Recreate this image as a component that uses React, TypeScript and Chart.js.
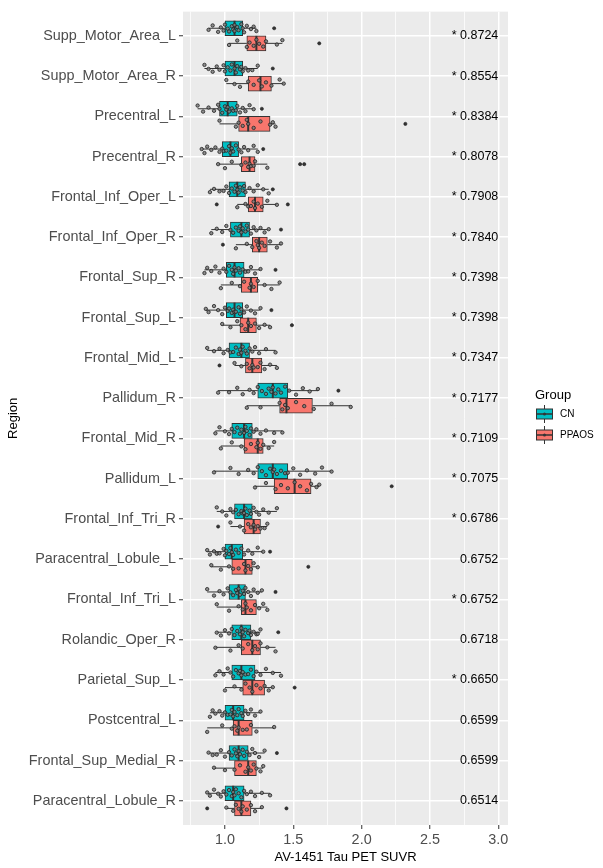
import React, { useEffect, useRef } from "react";
import { Chart, registerables } from "chart.js";
Chart.register(...registerables);

const REGIONS = [
  "Supp_Motor_Area_L", "Supp_Motor_Area_R", "Precentral_L", "Precentral_R",
  "Frontal_Inf_Oper_L", "Frontal_Inf_Oper_R", "Frontal_Sup_R", "Frontal_Sup_L",
  "Frontal_Mid_L", "Pallidum_R", "Frontal_Mid_R", "Pallidum_L",
  "Frontal_Inf_Tri_R", "Paracentral_Lobule_L", "Frontal_Inf_Tri_L", "Rolandic_Oper_R",
  "Parietal_Sup_L", "Postcentral_L", "Frontal_Sup_Medial_R", "Paracentral_Lobule_R",
];

// [lower whisker, q1, median, q3, upper whisker]
const CN_STATS = [
  [0.88, 1.0, 1.07, 1.13, 1.23], [0.85, 1.0, 1.07, 1.13, 1.24], [0.8, 0.96, 1.02, 1.09, 1.21],
  [0.83, 0.98, 1.04, 1.1, 1.24], [0.89, 1.03, 1.09, 1.15, 1.32], [0.9, 1.04, 1.12, 1.18, 1.32],
  [0.85, 1.01, 1.07, 1.14, 1.26], [0.86, 1.01, 1.07, 1.13, 1.26], [0.87, 1.03, 1.12, 1.18, 1.37],
  [0.95, 1.24, 1.35, 1.46, 1.68], [0.93, 1.05, 1.14, 1.2, 1.42], [0.92, 1.24, 1.35, 1.46, 1.78],
  [0.94, 1.07, 1.14, 1.2, 1.38], [0.87, 1.0, 1.05, 1.13, 1.28], [0.87, 1.03, 1.1, 1.15, 1.27],
  [0.94, 1.05, 1.12, 1.19, 1.26], [0.93, 1.05, 1.12, 1.22, 1.41], [0.89, 1.0, 1.06, 1.14, 1.26],
  [0.88, 1.03, 1.1, 1.17, 1.29], [0.87, 1.0, 1.06, 1.14, 1.33],
];
const PP_STATS = [
  [1.03, 1.16, 1.23, 1.3, 1.42], [1.01, 1.17, 1.26, 1.34, 1.43], [0.96, 1.1, 1.17, 1.33, 1.37],
  [0.95, 1.12, 1.18, 1.22, 1.31], [1.09, 1.17, 1.22, 1.28, 1.38], [1.08, 1.2, 1.25, 1.31, 1.41],
  [0.97, 1.12, 1.19, 1.24, 1.4], [0.98, 1.11, 1.17, 1.23, 1.33], [1.07, 1.15, 1.2, 1.27, 1.38],
  [1.16, 1.4, 1.45, 1.64, 1.92], [0.97, 1.14, 1.24, 1.28, 1.36], [1.22, 1.36, 1.51, 1.63, 1.69],
  [1.04, 1.14, 1.21, 1.26, 1.31], [0.9, 1.05, 1.15, 1.2, 1.24], [0.94, 1.12, 1.15, 1.23, 1.31],
  [0.93, 1.12, 1.2, 1.26, 1.37], [1.0, 1.13, 1.2, 1.29, 1.35], [0.87, 1.06, 1.1, 1.2, 1.36],
  [0.92, 1.07, 1.17, 1.23, 1.28], [1.01, 1.07, 1.12, 1.19, 1.27],
];
const CN_OUT = [
  [1.36], [1.35], [1.27], [1.28], [1.35], [1.41], [1.37], [1.34], [], [1.83],
  [], [], [], [1.33], [1.37], [1.39], [], [], [1.38], [],
];
const PP_OUT = [
  [1.69], [], [2.32], [1.55, 1.58], [0.94, 1.46], [0.985], [], [1.49], [0.96], [],
  [], [2.22], [0.95], [1.61], [], [], [1.51], [], [], [0.87, 1.45],
];
const CN_PTS = [
  [0.88, 0.91, 0.95, 0.97, 0.99, 1.0, 1.02, 1.03, 1.05, 1.06, 1.07, 1.07, 1.09, 1.1, 1.12, 1.13, 1.14, 1.16, 1.19, 1.21, 1.23],
  [0.85, 0.88, 0.91, 0.94, 0.96, 0.99, 1.0, 1.02, 1.04, 1.05, 1.07, 1.08, 1.09, 1.11, 1.12, 1.13, 1.15, 1.17, 1.2, 1.24],
  [0.8, 0.84, 0.88, 0.92, 0.95, 0.96, 0.98, 1.0, 1.01, 1.02, 1.03, 1.05, 1.06, 1.08, 1.09, 1.11, 1.13, 1.15, 1.18, 1.21],
  [0.83, 0.85, 0.87, 0.9, 0.93, 0.96, 0.98, 0.99, 1.01, 1.03, 1.04, 1.05, 1.06, 1.08, 1.1, 1.12, 1.14, 1.17, 1.21, 1.24],
  [0.89, 0.92, 0.96, 0.99, 1.01, 1.03, 1.05, 1.07, 1.08, 1.09, 1.1, 1.11, 1.13, 1.14, 1.15, 1.18, 1.21, 1.24, 1.28, 1.32],
  [0.9, 0.94, 0.98, 1.01, 1.04, 1.06, 1.08, 1.1, 1.11, 1.12, 1.13, 1.15, 1.16, 1.17, 1.19, 1.21, 1.23, 1.26, 1.29, 1.32],
  [0.85, 0.87, 0.9, 0.93, 0.96, 0.99, 1.01, 1.03, 1.05, 1.06, 1.07, 1.08, 1.1, 1.11, 1.13, 1.15, 1.17, 1.19, 1.22, 1.26],
  [0.86, 0.88, 0.92, 0.95, 0.98, 1.0, 1.02, 1.03, 1.05, 1.06, 1.07, 1.08, 1.1, 1.11, 1.12, 1.14, 1.16, 1.19, 1.22, 1.26],
  [0.87, 0.92, 0.96, 0.99, 1.02, 1.04, 1.06, 1.08, 1.1, 1.11, 1.12, 1.13, 1.15, 1.16, 1.18, 1.2, 1.22, 1.25, 1.3, 1.37],
  [0.95, 1.03, 1.09, 1.13, 1.18, 1.21, 1.24, 1.27, 1.3, 1.32, 1.34, 1.35, 1.37, 1.39, 1.41, 1.44, 1.47, 1.52, 1.57, 1.62, 1.68],
  [0.93, 0.96, 1.0, 1.03, 1.05, 1.07, 1.09, 1.11, 1.12, 1.14, 1.15, 1.16, 1.18, 1.19, 1.21, 1.23, 1.26, 1.3, 1.36, 1.42],
  [0.92, 1.04, 1.1, 1.17, 1.21, 1.24, 1.27, 1.3, 1.33, 1.35, 1.36, 1.38, 1.41, 1.44, 1.46, 1.5, 1.55, 1.6, 1.66, 1.71, 1.78],
  [0.94, 0.98, 1.01, 1.04, 1.06, 1.08, 1.1, 1.12, 1.13, 1.14, 1.15, 1.16, 1.18, 1.19, 1.21, 1.23, 1.25, 1.28, 1.32, 1.38],
  [0.87, 0.89, 0.92, 0.94, 0.96, 0.99, 1.0, 1.01, 1.03, 1.04, 1.05, 1.06, 1.08, 1.1, 1.12, 1.14, 1.17, 1.2, 1.24, 1.28],
  [0.87, 0.92, 0.96, 0.99, 1.02, 1.04, 1.06, 1.08, 1.09, 1.1, 1.11, 1.13, 1.14, 1.15, 1.17, 1.19, 1.21, 1.24, 1.27],
  [0.94, 0.97, 1.0, 1.03, 1.05, 1.07, 1.09, 1.11, 1.12, 1.13, 1.14, 1.15, 1.17, 1.18, 1.19, 1.21, 1.23, 1.24, 1.26],
  [0.93, 0.96, 0.99, 1.02, 1.04, 1.06, 1.08, 1.1, 1.11, 1.12, 1.13, 1.15, 1.17, 1.19, 1.21, 1.23, 1.26, 1.3, 1.35, 1.41],
  [0.89, 0.91, 0.93, 0.96, 0.98, 1.0, 1.02, 1.04, 1.05, 1.06, 1.07, 1.09, 1.1, 1.12, 1.13, 1.15, 1.17, 1.19, 1.22, 1.26],
  [0.88, 0.91, 0.94, 0.97, 1.0, 1.03, 1.05, 1.07, 1.08, 1.09, 1.1, 1.11, 1.13, 1.14, 1.16, 1.18, 1.2, 1.22, 1.25, 1.29],
  [0.87, 0.89, 0.92, 0.95, 0.97, 0.99, 1.01, 1.03, 1.05, 1.06, 1.07, 1.08, 1.1, 1.12, 1.14, 1.16, 1.19, 1.22, 1.27, 1.33],
];
const PP_PTS = [
  [1.03, 1.09, 1.16, 1.18, 1.21, 1.23, 1.25, 1.28, 1.3, 1.38, 1.42],
  [1.01, 1.07, 1.11, 1.17, 1.21, 1.25, 1.27, 1.3, 1.34, 1.4, 1.43],
  [0.96, 1.08, 1.1, 1.13, 1.16, 1.17, 1.21, 1.26, 1.33, 1.35, 1.37],
  [0.95, 1.0, 1.05, 1.12, 1.15, 1.17, 1.18, 1.19, 1.21, 1.22, 1.31],
  [1.09, 1.15, 1.17, 1.19, 1.21, 1.22, 1.24, 1.27, 1.31, 1.38],
  [1.08, 1.16, 1.2, 1.23, 1.24, 1.25, 1.27, 1.29, 1.33, 1.38, 1.41],
  [0.97, 1.05, 1.11, 1.14, 1.18, 1.19, 1.21, 1.24, 1.29, 1.34, 1.4],
  [0.98, 1.04, 1.09, 1.12, 1.15, 1.17, 1.19, 1.22, 1.25, 1.29, 1.33],
  [1.07, 1.12, 1.16, 1.18, 1.2, 1.21, 1.24, 1.26, 1.29, 1.33, 1.38],
  [1.16, 1.26, 1.4, 1.42, 1.44, 1.46, 1.52, 1.58, 1.65, 1.78, 1.92],
  [0.97, 1.05, 1.12, 1.15, 1.19, 1.23, 1.24, 1.26, 1.28, 1.32, 1.36],
  [1.22, 1.3, 1.37, 1.41, 1.46, 1.51, 1.55, 1.6, 1.63, 1.67, 1.69],
  [1.04, 1.11, 1.14, 1.17, 1.19, 1.21, 1.22, 1.24, 1.26, 1.29, 1.31],
  [0.9, 0.97, 1.03, 1.06, 1.1, 1.14, 1.15, 1.17, 1.19, 1.21, 1.24],
  [0.94, 1.03, 1.1, 1.13, 1.15, 1.16, 1.19, 1.22, 1.25, 1.28, 1.31],
  [0.93, 1.04, 1.1, 1.13, 1.17, 1.2, 1.22, 1.24, 1.26, 1.31, 1.37],
  [1.0, 1.07, 1.12, 1.15, 1.18, 1.2, 1.23, 1.26, 1.29, 1.32, 1.35],
  [0.87, 0.98, 1.05, 1.07, 1.09, 1.1, 1.13, 1.16, 1.19, 1.23, 1.36],
  [0.92, 1.0, 1.07, 1.11, 1.15, 1.17, 1.19, 1.21, 1.23, 1.26, 1.28],
  [1.01, 1.06, 1.08, 1.1, 1.12, 1.13, 1.16, 1.19, 1.22, 1.27],
];
const CORR = [
  "0.8724", "0.8554", "0.8384", "0.8078", "0.7908", "0.7840", "0.7398", "0.7398", "0.7347", "0.7177",
  "0.7109", "0.7075", "0.6786", "0.6752", "0.6752", "0.6718", "0.6650", "0.6599", "0.6599", "0.6514",
];
const SIG = [
  true, true, true, true, true, true, true, true, true, true,
  true, true, true, false, true, false, true, false, false, false,
];
const X_MAJOR = [1.0, 1.5, 2.0, 2.5, 3.0];
const X_MINOR = [0.75, 1.25, 1.75, 2.25, 2.75];
const GROUPS = ["CN", "PPAOS"];

// style constants
const FONT = "'Liberation Sans', Arial, sans-serif";
const CN_COLOR = "#00BFC4";
const PP_COLOR = "#F8766D";
const DODGE = 0.1875;
const BOX_PX = 15;
const JITTER = [0.04, -0.07, 0.09, -0.02, 0.06, -0.09, 0.01, 0.08, -0.05, 0.03, -0.08, 0.07, -0.03, 0.05, -0.1, 0.0, 0.1, -0.06, 0.02, -0.04, 0.07, -0.01, 0.05];

const isMajor = (v: number) => X_MAJOR.some((m) => Math.abs(m - v) < 1e-6);

const extras = {
  id: "extras",
  beforeDraw(chart: any) {
    const { ctx, chartArea: a } = chart;
    ctx.save();
    ctx.fillStyle = "#EBEBEB";
    ctx.fillRect(a.left, a.top, a.right - a.left, a.bottom - a.top);
    ctx.restore();
  },
  beforeDatasetsDraw(chart: any) {
    const { ctx } = chart;
    const xs = chart.scales.x, ys = chart.scales.y;
    ctx.save();
    ctx.strokeStyle = "#333333";
    ctx.lineWidth = 1;
    const sets: [number[][], number][] = [[CN_STATS, -DODGE], [PP_STATS, DODGE]];
    sets.forEach(([stats, off]) =>
      stats.forEach((s, i) => {
        const y = ys.getPixelForValue(i + off);
        ctx.beginPath();
        ctx.moveTo(xs.getPixelForValue(s[0]), y);
        ctx.lineTo(xs.getPixelForValue(s[1]), y);
        ctx.moveTo(xs.getPixelForValue(s[3]), y);
        ctx.lineTo(xs.getPixelForValue(s[4]), y);
        ctx.stroke();
      })
    );
    ctx.restore();
  },
  afterDatasetDraw(chart: any, args: any) {
    const ds = chart.data.datasets[args.index];
    if (ds.type !== "bar") return;
    const stats = ds.label === "CN" ? CN_STATS : PP_STATS;
    const off = ds.label === "CN" ? -DODGE : DODGE;
    const { ctx } = chart;
    const xs = chart.scales.x, ys = chart.scales.y;
    ctx.save();
    ctx.strokeStyle = "#333333";
    ctx.lineWidth = 2;
    stats.forEach((s, i) => {
      const y = ys.getPixelForValue(i + off);
      const x = xs.getPixelForValue(s[2]);
      ctx.beginPath();
      ctx.moveTo(x, y - BOX_PX / 2);
      ctx.lineTo(x, y + BOX_PX / 2);
      ctx.stroke();
    });
    ctx.restore();
  },
  afterDraw(chart: any) {
    const { ctx } = chart;
    const xs = chart.scales.x, ys = chart.scales.y;
    ctx.save();
    // correlation annotations
    ctx.fillStyle = "#000000";
    ctx.font = `12.5px ${FONT}`;
    ctx.textAlign = "right";
    ctx.textBaseline = "middle";
    REGIONS.forEach((_, i) => {
      ctx.fillText((SIG[i] ? "* " : "") + CORR[i], xs.getPixelForValue(3.0), ys.getPixelForValue(i));
    });
    // legend
    ctx.textAlign = "left";
    ctx.font = `13px ${FONT}`;
    ctx.fillText("Group", 535, 395);
    const cols = [CN_COLOR, PP_COLOR];
    const ys2 = [414, 435];
    GROUPS.forEach((g, k) => {
      const yc = ys2[k];
      ctx.strokeStyle = "#333333";
      ctx.lineWidth = 1;
      ctx.beginPath();
      ctx.moveTo(544.5, yc - 9);
      ctx.lineTo(544.5, yc + 9);
      ctx.stroke();
      ctx.fillStyle = cols[k];
      ctx.fillRect(536.5, yc - 5, 16, 10);
      ctx.strokeRect(536.5, yc - 5, 16, 10);
      ctx.lineWidth = 1.5;
      ctx.beginPath();
      ctx.moveTo(536.5, yc);
      ctx.lineTo(552.5, yc);
      ctx.stroke();
      ctx.fillStyle = "#333333";
      ctx.beginPath();
      ctx.arc(544.5, yc, 1.5, 0, Math.PI * 2);
      ctx.fill();
      ctx.fillStyle = "#000000";
      ctx.font = `10px ${FONT}`;
      ctx.fillText(g, 560, yc);
    });
    ctx.restore();
  },
};

export default function App() {
  const ref = useRef<HTMLCanvasElement>(null);
  useEffect(() => {
    const mkPts = (pts: number[][], off: number) =>
      pts.flatMap((row, i) => row.map((v, k) => ({ x: v, y: i + off + JITTER[(k + i * 5) % JITTER.length] })));
    const mkOut = (outs: number[][], off: number) =>
      outs.flatMap((row, i) => row.map((v) => ({ x: v, y: i + off })));
    const mkBox = (stats: number[][], off: number) =>
      stats.map((s, i) => ({ x: [s[1], s[3]], y: i + off }));
    const ptStyle = {
      type: "scatter" as const,
      pointRadius: 1.7,
      pointBorderWidth: 0.8,
      pointBorderColor: "#222222",
      pointBackgroundColor: "rgba(125,125,125,0.85)",
      order: 1,
    };
    const outStyle = {
      type: "scatter" as const,
      pointRadius: 1.6,
      pointBorderWidth: 0.6,
      pointBorderColor: "#222222",
      pointBackgroundColor: "#333333",
      order: 1,
    };
    const boxStyle = {
      type: "bar" as const,
      indexAxis: "y" as const,
      borderColor: "#333333",
      borderWidth: 1,
      borderSkipped: false,
      barThickness: BOX_PX,
      grouped: false,
      order: 2,
    };
    const chart = new Chart(ref.current!, {
      type: "scatter",
      data: {
        datasets: [
          { ...ptStyle, label: "CN pts", data: mkPts(CN_PTS, -DODGE) },
          { ...ptStyle, label: "PPAOS pts", data: mkPts(PP_PTS, DODGE) },
          { ...outStyle, label: "CN out", data: mkOut(CN_OUT, -DODGE) },
          { ...outStyle, label: "PPAOS out", data: mkOut(PP_OUT, DODGE) },
          { ...boxStyle, label: "CN", data: mkBox(CN_STATS, -DODGE), backgroundColor: CN_COLOR },
          { ...boxStyle, label: "PPAOS", data: mkBox(PP_STATS, DODGE), backgroundColor: PP_COLOR },
        ] as any,
      },
      options: {
        animation: false,
        responsive: false,
        devicePixelRatio: 1,
        events: [],
        layout: { padding: { top: 10, right: 95, left: 0, bottom: 0 } },
        plugins: { legend: { display: false }, tooltip: { enabled: false } },
        scales: {
          x: {
            type: "linear",
            min: 0.693,
            max: 3.071,
            afterBuildTicks: (s: any) => {
              s.ticks = [...X_MINOR, ...X_MAJOR].sort((a, b) => a - b).map((v) => ({ value: v }));
            },
            afterFit: (s: any) => {
              s.height = 43;
            },
            ticks: {
              autoSkip: false,
              maxRotation: 0,
              padding: 2,
              color: "#4D4D4D",
              font: { family: FONT, size: 14.4 },
              callback: (v: any) => (isMajor(Number(v)) ? Number(v).toFixed(1) : ""),
            },
            grid: {
              color: "#FFFFFF",
              lineWidth: (c: any) => (c.tick && isMajor(c.tick.value) ? 1.5 : 0.75),
              tickColor: (c: any) => (c.tick && isMajor(c.tick.value) ? "#333333" : "rgba(0,0,0,0)"),
              tickLength: 4,
              tickWidth: 1,
            },
            border: { display: false },
            title: {
              display: true,
              text: "AV-1451 Tau PET SUVR",
              color: "#000000",
              font: { family: FONT, size: 13 },
              padding: { top: 0, bottom: 3 },
            },
          },
          y: {
            type: "linear",
            min: -0.6,
            max: 19.6,
            reverse: true,
            offset: false,
            afterBuildTicks: (s: any) => {
              s.ticks = REGIONS.map((_, i) => ({ value: i }));
            },
            afterFit: (s: any) => {
              s.width = 183;
            },
            ticks: {
              autoSkip: false,
              padding: 3,
              color: "#4D4D4D",
              font: { family: FONT, size: 14.4 },
              callback: (v: any) => REGIONS[Math.round(Number(v))] ?? "",
            },
            grid: {
              color: "#FFFFFF",
              lineWidth: 1.5,
              tickColor: "#333333",
              tickLength: 4,
              tickWidth: 1,
              offset: false,
            },
            border: { display: false },
            title: {
              display: true,
              text: "Region",
              color: "#000000",
              font: { family: FONT, size: 13 },
              padding: { top: 6, bottom: 0 },
            },
          },
        },
      } as any,
      plugins: [extras],
    });
    return () => chart.destroy();
  }, []);
  return (
    <div style={{ position: "fixed", left: 0, top: 0, width: 603, height: 868, background: "#ffffff" }}>
      <canvas ref={ref} width={603} height={868} style={{ display: "block" }} />
    </div>
  );
}
